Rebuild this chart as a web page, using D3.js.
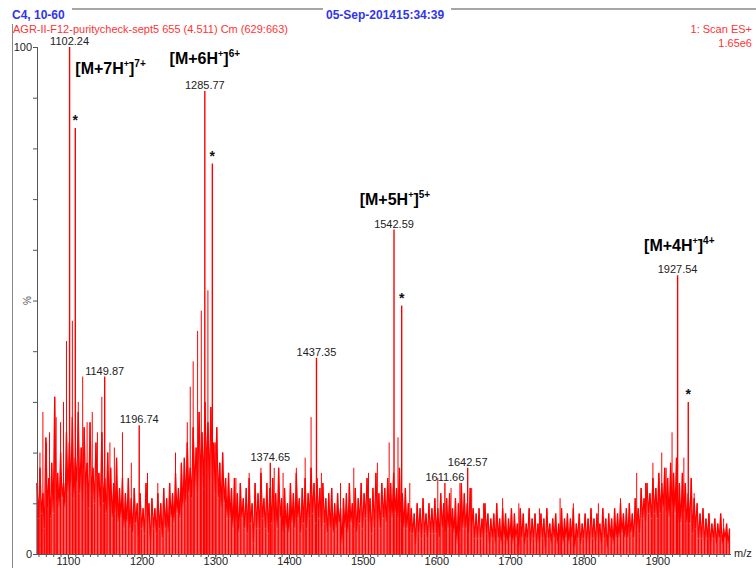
<!DOCTYPE html>
<html>
<head>
<meta charset="utf-8">
<script src="https://cdn.jsdelivr.net/npm/d3@7"></script>
<style>
  body { margin: 0; background: #fff; }
  svg { font-family: "Liberation Sans", Arial, sans-serif; }
  .axis path, .axis line { stroke: #555; }
  .axis text { fill: #222; font-size: 11px; }
</style>
</head>
<body>
<div id="chart"></div>
<script>
'use strict';

// m/z range and noise sampling (every 2 units, from 1058)
const mzRange = [1058, 2000];
const noiseStart = 1058;
const noiseStep = 2;

// baseline noise, % intensity (20 m/z per row)
const noise = [
  14, 7, 17, 8, 12, 5, 23, 9, 15, 7,
  18, 8, 31, 10, 16, 9, 20, 11, 14, 9,
  24, 12, 22, 13, 27, 11, 19, 14, 28, 12,
  21, 10, 25, 13, 18, 9, 26, 12, 17, 10,
  22, 11, 16, 9, 24, 10, 15, 8, 20, 9,
  17, 7, 14, 8, 19, 6, 13, 7, 15, 5,
  12, 6, 15, 5, 11, 4, 13, 6, 10, 3,
  12, 5, 9, 4, 14, 6, 10, 2, 11, 5,
  9, 4, 12, 5, 10, 3, 13, 5, 11, 4,
  14, 7, 12, 6, 16, 8, 13, 7, 18, 9,
  19, 10, 22, 12, 17, 11, 25, 13, 21, 12,
  28, 15, 24, 13, 30, 16, 26, 14, 29, 15,
  22, 12, 25, 11, 18, 9, 20, 10, 15, 7,
  16, 7, 13, 5, 15, 6, 12, 4, 14, 7,
  11, 5, 13, 4, 15, 6, 10, 2, 14, 5,
  12, 5, 16, 7, 11, 5, 14, 4, 13, 6,
  15, 6, 12, 5, 17, 7, 11, 4, 13, 5,
  10, 4, 14, 6, 12, 5, 16, 7, 11, 4,
  13, 6, 15, 5, 12, 7, 17, 8, 14, 6,
  15, 7, 13, 5, 14, 6, 11, 4, 12, 5,
  13, 4, 10, 5, 12, 6, 9, 2, 11, 5,
  12, 4, 14, 6, 10, 5, 13, 4, 11, 6,
  14, 5, 12, 7, 15, 6, 11, 4, 13, 5,
  16, 6, 12, 5, 14, 7, 13, 6, 15, 8,
  14, 7, 16, 8, 13, 7, 17, 6, 12, 5,
  13, 5, 10, 4, 9, 4, 8, 2, 10, 4,
  9, 3, 11, 4, 8, 3, 10, 4, 9, 4,
  11, 4, 9, 3, 12, 5, 10, 4, 11, 5,
  12, 5, 9, 4, 11, 2, 10, 4, 14, 5,
  12, 5, 10, 4, 13, 5, 9, 3, 8, 3,
  9, 3, 7, 3, 10, 4, 8, 2, 7, 3,
  8, 2, 10, 3, 7, 2, 9, 3, 8, 2,
  7, 3, 9, 2, 8, 3, 6, 1, 9, 3,
  8, 2, 6, 3, 9, 2, 7, 3, 8, 2,
  6, 2, 8, 3, 7, 1, 9, 3, 6, 2,
  7, 3, 8, 2, 6, 3, 9, 2, 7, 3,
  8, 2, 7, 3, 9, 1, 6, 3, 8, 2,
  6, 3, 8, 2, 7, 2, 9, 3, 7, 2,
  8, 3, 6, 2, 9, 3, 7, 1, 8, 3,
  7, 2, 9, 3, 8, 3, 10, 4, 8, 3,
  9, 3, 10, 4, 8, 3, 11, 5, 9, 4,
  13, 7, 11, 6, 14, 8, 12, 7, 15, 8,
  13, 7, 16, 8, 14, 9, 17, 8, 15, 7,
  18, 9, 16, 8, 19, 6, 14, 6, 16, 8,
  14, 6, 12, 6, 15, 4, 11, 5, 10, 3,
  8, 3, 9, 2, 7, 3, 8, 2, 6, 3,
  7, 2, 6, 3, 8, 2, 5, 3, 6, 2,
  5
];

// unlabelled spikes standing out of the noise: [m/z, %]
const spikes = [
  [1062, 20], [1066, 28], [1071, 22], [1075, 24], [1084, 27], [1090, 26],
  [1094, 30], [1098, 42], [1106, 46], [1114, 30], [1120, 35], [1126, 26],
  [1133, 28], [1140, 24], [1146, 31], [1157, 22], [1163, 21], [1174, 24],
  [1186, 18], [1208, 16], [1222, 14], [1246, 20], [1262, 26], [1266, 33],
  [1270, 38], [1276, 44], [1281, 48], [1290, 52], [1300, 22], [1306, 18],
  [1328, 15], [1346, 16], [1362, 17], [1380, 17], [1392, 16], [1410, 17],
  [1422, 19], [1430, 27], [1444, 16], [1470, 14], [1488, 17], [1508, 16],
  [1520, 18], [1536, 22], [1548, 23], [1564, 14], [1602, 15], [1620, 13],
  [1632, 14], [1648, 13], [1664, 10], [1690, 11], [1712, 10], [1740, 9],
  [1768, 11], [1786, 10], [1820, 10], [1850, 11], [1872, 16], [1884, 14],
  [1894, 18], [1902, 15], [1906, 20], [1912, 17], [1920, 24], [1936, 19],
  [1950, 12], [1970, 8], [1990, 7]
];

// labelled peaks
const peakMz = [1102.24, 1149.87, 1196.74, 1285.77, 1374.65, 1437.35, 1542.59, 1611.66, 1642.57, 1927.54];
const peakPct = [100, 35, 25.4, 91.3, 18, 38.7, 64, 14, 17, 55];

// isotope / adduct peaks marked with a star
const starMz = [1110, 1296, 1553, 1942];
const starPct = [84, 77, 49, 30];

// charge-state annotations
const annoText = ['[M+7H', '[M+6H', '[M+5H', '[M+4H'];
const annoCharge = ['7+', '6+', '5+', '4+'];
const annoMz = [1110, 1238, 1496, 1882];
const annoPct = [94.7, 96.6, 68.8, 59.8];

const yTicks = d3.range(0, 101, 10);

const width = 756, height = 568;
const margins = { left: 37, right: 25, top: 47, bottom: 14 };

const svg = d3.select('#chart').append('svg')
  .attr('width', width)
  .attr('height', height);

const scaleX = d3.scaleLinear()
  .domain(mzRange)
  .range([margins.left, width - margins.right]);

const scaleY = d3.scaleLinear()
  .domain([0, 100])
  .range([height - margins.bottom, margins.top]);

// header
svg.append('line').attr('x1', 72).attr('x2', 323).attr('y1', 9).attr('y2', 9)
  .attr('stroke', '#888').attr('stroke-width', 1.5);
svg.append('line').attr('x1', 451).attr('x2', 756).attr('y1', 9).attr('y2', 9)
  .attr('stroke', '#888').attr('stroke-width', 1.5);
svg.append('line').attr('x1', 12.5).attr('x2', 12.5).attr('y1', 24).attr('y2', height)
  .attr('stroke', '#888');

svg.append('text').attr('x', 12).attr('y', 19)
  .attr('fill', '#2f35ee').style('font-weight', 'bold').style('font-size', '12px')
  .text('C4, 10-60');
svg.append('text').attr('x', 326).attr('y', 19)
  .attr('fill', '#2f35ee').style('font-weight', 'bold').style('font-size', '12px')
  .text('05-Sep-201415:34:39');
svg.append('text').attr('x', 13).attr('y', 33)
  .attr('fill', '#f33').style('font-size', '11px')
  .text('AGR-II-F12-puritycheck-sept5 655 (4.511) Cm (629:663)');
svg.append('text').attr('x', 752).attr('y', 33).attr('text-anchor', 'end')
  .attr('fill', '#f33').style('font-size', '11px')
  .text('1: Scan ES+');
svg.append('text').attr('x', 752).attr('y', 47).attr('text-anchor', 'end')
  .attr('fill', '#f33').style('font-size', '11px')
  .text('1.65e6');

// noise trace: sticks from the baseline plus the connecting profile line
const noiseData = noise.map((v, i) => [noiseStart + i * noiseStep, v]);
const line = d3.line().x(d => scaleX(d[0])).y(d => scaleY(d[1]));

svg.append('g').selectAll('line')
  .data(noiseData)
  .join('line')
  .attr('x1', d => scaleX(d[0])).attr('x2', d => scaleX(d[0]))
  .attr('y1', scaleY(0)).attr('y2', d => scaleY(d[1]))
  .attr('stroke', '#f00')
  .attr('stroke-width', 1.2);

svg.append('path')
  .datum(noiseData)
  .attr('fill', 'none')
  .attr('stroke', '#f00')
  .attr('stroke-width', 1.2)
  .attr('d', line);

// spikes and peaks as sticks
const sticks = spikes.map(d => ({ mz: d[0], pct: d[1], w: 1 }))
  .concat(peakMz.map((m, i) => ({ mz: m, pct: peakPct[i], w: 1.4 })))
  .concat(starMz.map((m, i) => ({ mz: m, pct: starPct[i], w: 1.4 })));

svg.append('g').selectAll('line')
  .data(sticks)
  .join('line')
  .attr('x1', d => scaleX(d.mz)).attr('x2', d => scaleX(d.mz))
  .attr('y1', scaleY(0)).attr('y2', d => scaleY(d.pct))
  .attr('stroke', '#f00')
  .attr('stroke-width', d => d.w);

// axes
const axisX = svg.append('g').classed('axis', true)
  .attr('transform', `translate(0, ${scaleY(0)})`)
  .call(d3.axisBottom(scaleX).tickValues(d3.range(1100, 2000, 100))
    .tickSize(5).tickFormat(d3.format('d')));
axisX.select('.domain').attr('d', `M${scaleX(mzRange[0])},0.5H${scaleX(mzRange[1])}`);
axisX.selectAll('text').attr('y', 3).attr('dy', '0.71em');

svg.append('g').classed('axis', true)
  .attr('transform', `translate(0, ${scaleY(0)})`)
  .call(d3.axisBottom(scaleX).tickValues(d3.range(1060, 2000, 10))
    .tickSize(3).tickFormat(''))
  .select('.domain').remove();

const axisY = svg.append('g').classed('axis', true)
  .attr('transform', `translate(${margins.left}, 0)`)
  .call(d3.axisLeft(scaleY).tickValues(yTicks).tickSize(4)
    .tickFormat(d => (d === 0 || d === 100) ? d : ''));
axisY.select('.domain').attr('d', `M0.5,${scaleY(100)}V${scaleY(0)}`);
axisY.selectAll('text').attr('x', -5);

svg.append('text')
  .attr('transform', `translate(31, ${scaleY(50)}) rotate(-90)`)
  .attr('text-anchor', 'middle')
  .attr('fill', '#555').style('font-size', '10px')
  .text('%');

svg.append('text').attr('x', 734).attr('y', scaleY(0) + 3)
  .attr('fill', '#222').style('font-size', '11px')
  .text('m/z');

// peak labels
svg.append('g').selectAll('text')
  .data(peakMz)
  .join('text')
  .attr('x', d => scaleX(d))
  .attr('y', (d, i) => scaleY(peakPct[i]) - 2)
  .attr('text-anchor', 'middle')
  .attr('fill', '#222').style('font-size', '11px')
  .text(d => d3.format('.2f')(d));

// stars
svg.append('g').selectAll('text')
  .data(starMz)
  .join('text')
  .attr('x', d => scaleX(d))
  .attr('y', (d, i) => scaleY(starPct[i]) - 3)
  .attr('text-anchor', 'middle')
  .attr('fill', '#111').style('font-size', '14px').style('font-weight', 'bold')
  .text('*');

// charge-state annotations
const anno = svg.append('g').selectAll('text')
  .data(annoText)
  .join('text')
  .attr('x', (d, i) => scaleX(annoMz[i]))
  .attr('y', (d, i) => scaleY(annoPct[i]))
  .attr('fill', '#000').style('font-size', '16px').style('font-weight', 'bold');

anno.append('tspan').text(d => d);
anno.append('tspan').attr('dy', -7).style('font-size', '9px').text('+');
anno.append('tspan').attr('dy', 7).text(']');
anno.append('tspan').attr('dy', -7).style('font-size', '10px').text((d, i) => annoCharge[i]);
</script>
</body>
</html>
